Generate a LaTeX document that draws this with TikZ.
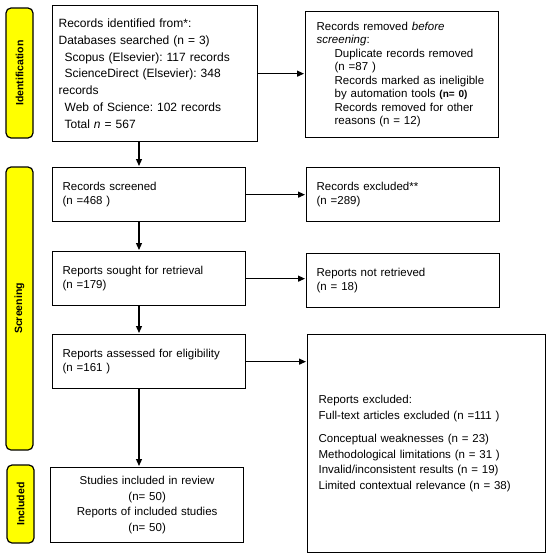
\documentclass[tikz,border=0pt]{standalone}
\usepackage{fontspec}
\setmainfont{Liberation Sans}
\usepackage{tikz}
\usetikzlibrary{arrows.meta}

\definecolor{labyellow}{RGB}{255,255,0}
\frenchspacing

\begin{document}
\begin{tikzpicture}[x=1pt, y=-1pt,
    box/.style={draw, line width=1.3pt, inner ysep=0pt, align=left, anchor=north west,
                font=\fontsize{11.5}{14}\selectfont},
    phase/.style={draw, fill=labyellow, rounded corners=5pt, line width=1.2pt, rotate=90,
                  minimum height=27pt, inner sep=0pt, font=\bfseries\fontsize{10.5}{12}\selectfont},
    flow/.style={-{Triangle[length=7pt, width=6pt]}, line width=1.2pt, shorten >=1pt}]
    \useasboundingbox (0,0) rectangle (550,557);

    % 阶段标签
    \node[phase, minimum width=130pt] (lid) at (19.5,73) {Identification};
    \node[phase, minimum width=283pt] (lscr) at (19.5,308.5) {Screening};
    \node[phase, minimum width=78pt] (linc) at (20.5,504) {Included};

    % 主流程框
    \node[box, inner xsep=6pt, text width=193pt, minimum height=136pt,
          font=\fontsize{12}{16.8}\selectfont] (ident) at (52,5)
        {Records identified from*:\\
         Databases searched (n = 3)\\
         \hspace*{6pt}Scopus (Elsevier): 117 records\\
         \hspace*{6pt}ScienceDirect (Elsevier): 348\\
         records\\
         \hspace*{6pt}Web of Science: 102 records\\
         \hspace*{6pt}Total \textit{n} = 567};
    \node[box, inner xsep=10pt, text width=173pt, minimum height=54pt] (screened) at (52,167)
        {Records screened\\(n =468 )};
    \node[box, inner xsep=10pt, text width=173pt, minimum height=54pt] (sought) at (52,251)
        {Reports sought for retrieval\\(n =179)};
    \node[box, inner xsep=10pt, text width=173pt, minimum height=54pt] (assessed) at (52,334)
        {Reports assessed for eligibility\\(n =161 )};
    \node[box, inner xsep=6pt, text width=181pt, minimum height=75pt, align=center,
          font=\fontsize{11.5}{15.5}\selectfont] (included) at (50,467)
        {Studies included in review\\(n= 50)\\Reports of included studies\\(n= 50)};

    % 排除框
    \node[box, inner xsep=11pt, text width=171pt, minimum height=126pt,
          font=\fontsize{11.5}{13.5}\selectfont] (removed) at (305,11)
        {Records removed \textit{before}\\
         \textit{screening}:\\
         \hspace*{18pt}Duplicate records removed\\
         \hspace*{18pt}(n =87 )\\
         \hspace*{18pt}Records marked as ineligible\\
         \hspace*{18pt}by automation tools {\bfseries\fontsize{10}{13.5}\selectfont(n= 0)}\\
         \hspace*{18pt}Records removed for other\\
         \hspace*{18pt}reasons (n = 12)};
    \node[box, inner xsep=10pt, text width=173pt, minimum height=54pt] (excluded) at (306,167)
        {Records excluded**\\(n =289)};
    \node[box, inner xsep=10pt, text width=173pt, minimum height=54pt] (notretr) at (306,253)
        {Reports not retrieved\\(n = 18)};
    \node[box, inner xsep=11pt, text width=216pt, minimum height=218pt,
          font=\fontsize{11.5}{15.5}\selectfont] (repexcl) at (307,334)
        {Reports excluded:\\
         Full-text articles excluded (n =111 )\\[8pt]
         Conceptual weaknesses (n = 23)\\
         Methodological limitations (n = 31 )\\
         Invalid/inconsistent results (n = 19)\\
         Limited contextual relevance (n = 38)};

    % 箭头
    \coordinate (spine) at (139,0);
    \draw[flow] (spine |- ident.south) -- (spine |- screened.north);
    \draw[flow] (spine |- screened.south) -- (spine |- sought.north);
    \draw[flow] (spine |- sought.south) -- (spine |- assessed.north);
    \draw[flow] (spine |- assessed.south) -- (spine |- included.north);

    \draw[flow] (ident.east) -- (ident.east -| removed.west);
    \draw[flow] (screened.east) -- (excluded.west);
    \draw[flow] (sought.east) -- (sought.east -| notretr.west);
    \draw[flow] (assessed.east) -- (assessed.east -| repexcl.west);
\end{tikzpicture}
\end{document}
